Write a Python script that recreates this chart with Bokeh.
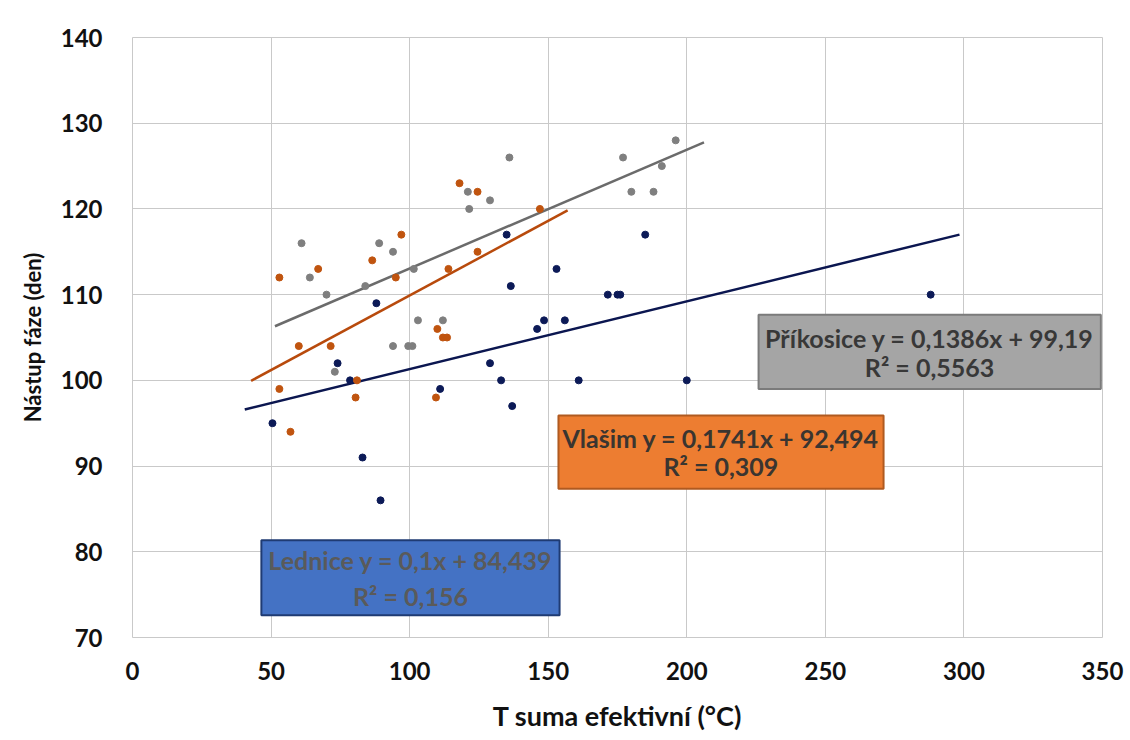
from bokeh.plotting import figure
from bokeh.models import Range1d, BoxAnnotation, Label, FixedTicker
from bokeh.embed import file_html
from bokeh.resources import INLINE

# --- data -------------------------------------------------------------
lednice_x = [50.5, 74, 78.5, 83, 88, 89.5, 111, 129, 133, 135, 136.5, 137, 146, 148.5, 153, 156, 161, 171.5, 175, 176, 185, 200, 288]
lednice_y = [95, 102, 100, 91, 109, 86, 99, 102, 100, 117, 111, 97, 106, 107, 113, 107, 100, 110, 110, 110, 117, 100, 110]

prikosice_x = [61, 64, 70, 73, 84, 89, 94, 94, 99.5, 101, 101.5, 103, 112, 121, 121.5, 129, 136, 177, 180, 188, 191, 196]
prikosice_y = [116, 112, 110, 101, 111, 116, 115, 104, 104, 104, 113, 107, 107, 122, 120, 121, 126, 126, 122, 122, 125, 128]

vlasim_x = [53, 53, 57, 60, 67, 71.5, 80.5, 81, 86.5, 95, 97, 109.5, 110, 112, 113.5, 114, 118, 124.5, 124.5, 147]
vlasim_y = [112, 99, 94, 104, 113, 104, 98, 100, 114, 112, 117, 98, 106, 105, 105, 113, 123, 122, 115, 120]

# trend lines: Lednice, Příkosice, Vlašim (Lednice)
trend_x0 = [40.5, 51.4, 42.8]
trend_x1 = [298.4, 206.2, 157.0]
trend_slope = [0.0791, 0.1386, 0.1741]
trend_icpt = [93.4, 99.19, 92.494]

label_line1 = ["Lednice y = 0,1x + 84,439", "Příkosice y = 0,1386x + 99,19", "Vlašim y = 0,1741x + 92,494"]
label_line2 = ["R² = 0,156", "R² = 0,5563", "R² = 0,309"]

x_ticks = [0, 50, 100, 150, 200, 250, 300, 350]
y_ticks = [70, 80, 90, 100, 110, 120, 130, 140]

# --- styles -----------------------------------------------------------
FONT = "Lato"
pt_colors = ["#0c1a57", "#7f7f7f", "#c0540f"]
ln_colors = ["#0b1650", "#6b6b6b", "#b84a0c"]
GRID = "#c9c9c9"

p = figure(width=1130, height=740, output_backend="svg", toolbar_location=None,
           x_range=Range1d(0, 350), y_range=Range1d(70, 140),
           min_border_left=132, min_border_right=28, min_border_top=37, min_border_bottom=103)
p.outline_line_color = GRID
p.outline_line_width = 1
p.background_fill_color = "white"
p.border_fill_color = "white"

for ax in (p.xaxis[0], p.yaxis[0]):
    ax.axis_line_color = None
    ax.major_tick_line_color = None
    ax.minor_tick_line_color = None
    ax.major_label_text_font = FONT
    ax.major_label_text_font_style = "bold"
    ax.major_label_text_font_size = "24px"
    ax.major_label_text_color = "#111111"
    ax.axis_label_text_font = FONT
    ax.axis_label_text_font_style = "bold"
    ax.axis_label_text_color = "#111111"

p.xaxis.axis_label_text_font_size = "27px"
p.yaxis.axis_label_text_font_size = "22px"
p.xaxis.ticker = FixedTicker(ticks=x_ticks)
p.yaxis.ticker = FixedTicker(ticks=y_ticks)
p.xaxis.axis_label = "T suma efektivní (°C)"
p.yaxis.axis_label = "Nástup fáze (den)"
p.xaxis.major_label_standoff = 18
p.yaxis.major_label_standoff = 24
p.xaxis.axis_label_standoff = 16
p.yaxis.axis_label_standoff = 12

p.xgrid.ticker = FixedTicker(ticks=x_ticks)
p.ygrid.ticker = FixedTicker(ticks=y_ticks)
for g in (p.xgrid[0], p.ygrid[0]):
    g.grid_line_color = GRID
    g.grid_line_width = 1

# trend lines
for i in range(3):
    xs = [trend_x0[i], trend_x1[i]]
    ys = [trend_slope[i] * x + trend_icpt[i] for x in xs]
    p.line(xs, ys, line_color=ln_colors[i], line_width=2.5)

# points
p.scatter(lednice_x, lednice_y, size=7, color=pt_colors[0])
p.scatter(prikosice_x, prikosice_y, size=7, color=pt_colors[1])
p.scatter(vlasim_x, vlasim_y, size=7, color=pt_colors[2])

# equation boxes (Lednice, Příkosice, Vlašim)
boxes = [
    dict(l=46.5, r=154.1, t=81.35, b=72.6, fill="#4472c4", line="#1f3b73", txt="#5a5a5a", cx=100.3, y1=79.0, y2=74.9),
    dict(l=225.9, r=349.4, t=107.64, b=99.0, fill="#a5a5a5", line="#7b7b7b", txt="#383838", cx=287.6, y1=104.96, y2=101.57),
    dict(l=153.7, r=271.0, t=95.9, b=87.34, fill="#ed7d31", line="#b05a20", txt="#3a3530", cx=212.3, y1=93.25, y2=89.98),
]
for i, b in enumerate(boxes):
    p.add_layout(BoxAnnotation(left=b["l"], right=b["r"], top=b["t"], bottom=b["b"],
                               fill_color=b["fill"], fill_alpha=1.0,
                               line_color=b["line"], line_width=2, line_alpha=1.0))
    for txt, yy in ((label_line1[i], b["y1"]), (label_line2[i], b["y2"])):
        p.add_layout(Label(x=b["cx"], y=yy, text=txt, text_align="center", text_baseline="middle",
                           text_font=FONT, text_font_style="bold", text_font_size="25px",
                           text_color=b["txt"]))

open("out.html", "w").write(file_html(p, INLINE))
